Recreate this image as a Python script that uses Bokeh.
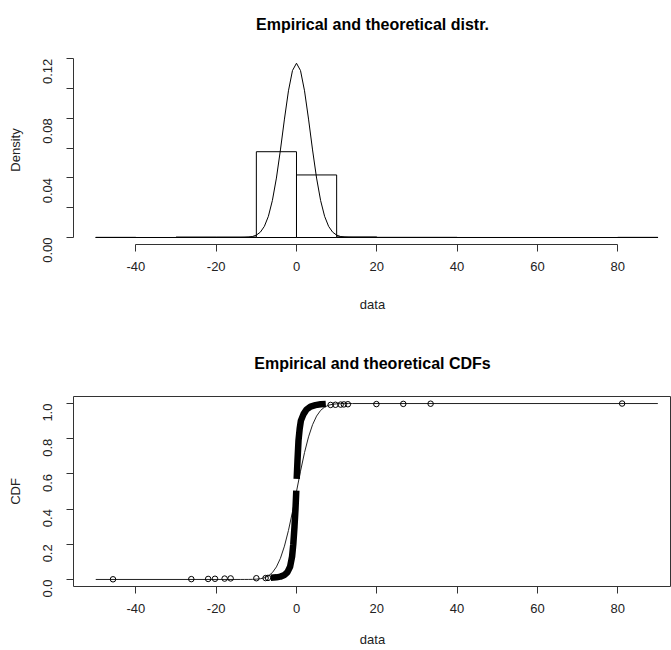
import math
from bokeh.plotting import figure
from bokeh.layouts import column
from bokeh.models import FixedTicker, PrintfTickFormatter, Range1d, LinearAxis
from bokeh.embed import file_html
from bokeh.resources import INLINE

# ---------------- data ----------------
x_ticks = [-40, -20, 0, 20, 40, 60, 80]
x_tick_labels = ["-40", "-20", "0", "20", "40", "60", "80"]

# histogram (density scale), breaks every 10 from -50 to 90
hist_left = [-50, -40, -30, -20, -10, 0, 10, 20, 30, 40, 50, 60, 70, 80]
hist_right = [-40, -30, -20, -10, 0, 10, 20, 30, 40, 50, 60, 70, 80, 90]
hist_density = [0.0001, 0.0, 0.0003, 0.0003, 0.0576, 0.0420, 0.0004,
                0.0001, 0.0001, 0.0, 0.0, 0.0, 0.0, 0.0001]

# theoretical (fitted normal) curve, read at these x positions
theo_x = [-50, -14, -13, -12, -11, -10, -9, -8, -7, -6, -5, -4, -3, -2, -1, 0,
          1, 2, 3, 4, 5, 6, 7, 8, 9, 10, 11, 12, 13, 14, 90]
theo_density = [0.0, 0.00002, 0.00007, 0.00024, 0.00064, 0.00159, 0.0036,
                0.00747, 0.01423, 0.0249, 0.0399, 0.0588, 0.0795, 0.0985,
                0.1121, 0.1170, 0.1121, 0.0985, 0.0795, 0.0588, 0.0399,
                0.0249, 0.01423, 0.00747, 0.0036, 0.00159, 0.00064, 0.00024,
                0.00007, 0.00002, 0.0]
theo_cdf = [0.0, 0.00002, 0.00007, 0.0002, 0.0006, 0.0017, 0.0042, 0.0095,
            0.0200, 0.0392, 0.0713, 0.1204, 0.1894, 0.2787, 0.3847, 0.5,
            0.6153, 0.7213, 0.8106, 0.8796, 0.9287, 0.9608, 0.9800, 0.9905,
            0.9958, 0.9983, 0.9994, 0.9998, 0.99993, 0.99998, 1.0]

# empirical CDF: isolated points in the tails
ecdf_tail_x = [-45.7, -26.2, -22.0, -20.3, -17.9, -16.4, -10.0, -7.7, -7.1,
               8.5, 9.7, 11.0, 11.8, 12.8, 19.9, 26.6, 33.4, 81.1]
ecdf_tail_p = [0.001, 0.002, 0.003, 0.004, 0.005, 0.006, 0.007, 0.008, 0.009,
               0.992, 0.993, 0.994, 0.995, 0.996, 0.997, 0.998, 0.999, 1.0]

# empirical CDF: dense part (overlapping points), below and above the jump at 0
ecdf_low_x = [-6.4, -5.0, -4.0, -3.0, -2.25, -1.6, -1.1, -0.8, -0.5, -0.25, -0.05]
ecdf_low_p = [0.010, 0.012, 0.016, 0.025, 0.042, 0.072, 0.13, 0.20, 0.30, 0.40, 0.505]
ecdf_high_x = [0.05, 0.25, 0.5, 0.8, 1.1, 1.75, 2.5, 3.5, 4.7, 6.0, 7.3]
ecdf_high_p = [0.572, 0.675, 0.79, 0.858, 0.903, 0.94, 0.966, 0.983, 0.991, 0.996, 0.998]

FONT = "Liberation Sans"
AXC = "#333333"


def style(p, title, title_standoff, xlab_standoff, xlab_lh,
          yticks, yminor, yfmt, ybounds, box):
    p.xgrid.visible = False
    p.ygrid.visible = False
    p.background_fill_color = "white"
    p.border_fill_color = "white"
    p.outline_line_color = AXC if box else None

    xa = p.below[0]
    ya = p.left[0]
    xa.ticker = FixedTicker(ticks=x_ticks)
    xa.major_label_overrides = dict(zip(x_ticks, x_tick_labels))
    xa.bounds = (-40, 80)
    ya.ticker = FixedTicker(ticks=yticks, minor_ticks=yminor)
    ya.bounds = ybounds
    ya.formatter = PrintfTickFormatter(format=yfmt)
    ya.major_label_orientation = math.pi / 2
    for a in (xa, ya):
        a.axis_line_color = AXC
        a.major_tick_line_color = AXC
        a.minor_tick_line_color = AXC
        a.major_tick_out = 7
        a.major_tick_in = 0
        a.minor_tick_out = 7
        a.minor_tick_in = 0
        a.major_label_text_font = FONT
        a.major_label_text_font_size = "13px"
        a.major_label_text_color = "#222222"
        a.axis_label_text_font = FONT
        a.axis_label_text_font_size = "13px"
        a.axis_label_text_font_style = "normal"
        a.axis_label_text_color = "#222222"
    xa.major_label_standoff = 10
    xa.axis_label_standoff = xlab_standoff
    xa.axis_label_text_line_height = xlab_lh
    ya.major_label_standoff = 19
    ya.axis_label_standoff = 13

    # title drawn as the label of an empty axis above the frame
    ta = LinearAxis(ticker=FixedTicker(ticks=[]), axis_label=title,
                    axis_line_color=None, major_tick_line_color=None,
                    minor_tick_line_color=None, major_tick_out=0,
                    major_tick_in=0, minor_tick_out=0, minor_tick_in=0,
                    major_label_standoff=0, axis_label_standoff=title_standoff,
                    axis_label_text_font=FONT,
                    axis_label_text_font_size="16px",
                    axis_label_text_font_style="bold",
                    axis_label_text_color="black")
    p.add_layout(ta, "above")


X0, X1 = -55.54, 93.4

p1 = figure(width=671, height=325, x_range=Range1d(X0, X1),
            y_range=Range1d(-0.0047, 0.1222),
            x_axis_label="data", y_axis_label="Density",
            output_backend="svg", toolbar_location=None,
            min_border_left=73, min_border_right=0,
            min_border_top=55, min_border_bottom=81)
style(p1, "Empirical and theoretical distr.", 23, 23, 0.4,
      [0, 0.04, 0.08, 0.12], [0.02, 0.06, 0.10], "%.2f", (0, 0.12), False)
p1.quad(left=hist_left, right=hist_right, bottom=0, top=hist_density,
        fill_color=None, line_color="black", line_width=1)
p1.line(theo_x, theo_density, line_color="black", line_width=1)

p2 = figure(width=671, height=325, x_range=Range1d(X0, X1),
            y_range=Range1d(-0.04, 1.04),
            x_axis_label="data", y_axis_label="CDF",
            output_backend="svg", toolbar_location=None,
            min_border_left=73, min_border_right=0,
            min_border_top=71, min_border_bottom=64)
style(p2, "Empirical and theoretical CDFs", 25, 16, 1.2,
      [0, 0.2, 0.4, 0.6, 0.8, 1.0], [], "%.1f", (0, 1), True)
p2.line(theo_x, theo_cdf, line_color="#222222", line_width=1)
p2.line(ecdf_low_x, ecdf_low_p, line_color="black", line_width=6.5)
p2.line(ecdf_high_x, ecdf_high_p, line_color="black", line_width=6.5)
p2.scatter(ecdf_tail_x, ecdf_tail_p, size=5.5, marker="circle",
           fill_color=None, line_color="black", line_width=1)

layout = column(p1, p2, spacing=0)
open("out.html", "w").write(file_html(layout, INLINE))
